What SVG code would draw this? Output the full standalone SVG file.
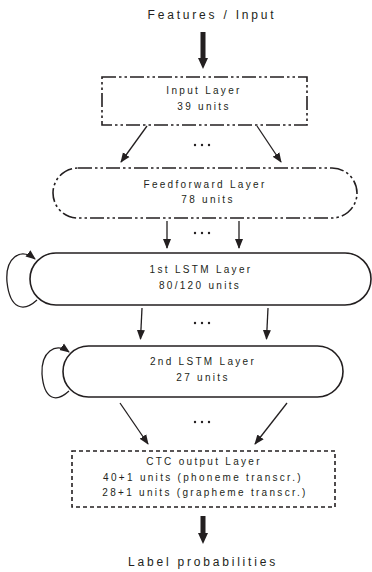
<svg xmlns="http://www.w3.org/2000/svg" width="372" height="572" viewBox="0 0 372 572">
<style>
text{font-family:"Liberation Sans",Arial,sans-serif;fill:#231f20;text-anchor:middle}
.t{font-size:12px;letter-spacing:2.8px}
.n{font-size:10px;letter-spacing:2.3px}
.box{fill:#fff;stroke:#231f20;stroke-width:1.6}
.dd{stroke-dasharray:14 3 2.5 3 2.5 3}
.ds{stroke-dasharray:4 3}
.c{fill:none;stroke:#231f20;stroke-width:1.3}
.dot{fill:#231f20}
</style>
<defs>
<marker id="ah" markerUnits="userSpaceOnUse" markerWidth="10" markerHeight="10" viewBox="0 0 10 10" refX="9" refY="5" orient="auto">
<path d="M0,1 L10,5 L0,9 Z" fill="#231f20"/>
</marker>
<g id="dots"><circle class="dot" cx="195" cy="0" r="1.2"/><circle class="dot" cx="202" cy="0" r="1.2"/><circle class="dot" cx="209" cy="0" r="1.2"/></g>
</defs>
<text class="t" x="212" y="18.5">Features / Input</text>
<g id="connectors">
<rect x="200.5" y="32" width="5" height="27" fill="#231f20"/>
<path d="M198,58 L208,58 L203,69 Z" fill="#231f20"/>
<path class="c" d="M147,126 L121,162" marker-end="url(#ah)"/>
<path class="c" d="M257,126 L281,162" marker-end="url(#ah)"/>
<path class="c" d="M167,221 L167,248" marker-end="url(#ah)"/>
<path class="c" d="M239,221 L239,248" marker-end="url(#ah)"/>
<path class="c" d="M142,308 L140.5,339" marker-end="url(#ah)"/>
<path class="c" d="M268,308 L266.5,339" marker-end="url(#ah)"/>
<path class="c" d="M120,403 L148,444" marker-end="url(#ah)"/>
<path class="c" d="M287,403 L255,444" marker-end="url(#ah)"/>
<path class="c" d="M37,300 C24,312 10,310 7,282 C5,258 20,247 35,259" marker-end="url(#ah)"/>
<path class="c" d="M69,391 C56,403 44,400 42,374 C41,352 55,342 69,352" marker-end="url(#ah)"/>
<rect x="200.5" y="516" width="5" height="18" fill="#231f20"/>
<path d="M198,533 L208,533 L203,544 Z" fill="#231f20"/>
<use href="#dots" y="145"/>
<use href="#dots" y="233"/>
<use href="#dots" y="323"/>
<use href="#dots" y="422"/>
</g>
<g id="input">
<rect class="box dd" x="102" y="77" width="205" height="48"/>
<text class="n" x="204" y="94">Input Layer</text>
<text class="n" x="204" y="110">39 units</text>
</g>
<g id="feedforward">
<rect class="box dd" x="53" y="168" width="304" height="50" rx="25"/>
<text class="n" x="205" y="188">Feedforward Layer</text>
<text class="n" x="208" y="203">78 units</text>
</g>
<g id="lstm1">
<rect class="box" x="30" y="253" width="341" height="52" rx="26"/>
<text class="n" x="201" y="272.5">1st LSTM Layer</text>
<text class="n" x="200" y="288.5">80/120 units</text>
</g>
<g id="lstm2">
<rect class="box" x="63" y="346" width="280" height="51" rx="25.5"/>
<text class="n" x="203" y="365">2nd LSTM Layer</text>
<text class="n" x="203" y="381">27 units</text>
</g>
<g id="ctc">
<rect class="box ds" x="72" y="451" width="263" height="56"/>
<text class="n" x="204" y="465">CTC output Layer</text>
<text class="n" x="203" y="481">40+1 units (phoneme transcr.)</text>
<text class="n" x="205" y="496">28+1 units (grapheme transcr.)</text>
</g>
<text class="t" x="203" y="566">Label probabilities</text>
</svg>
